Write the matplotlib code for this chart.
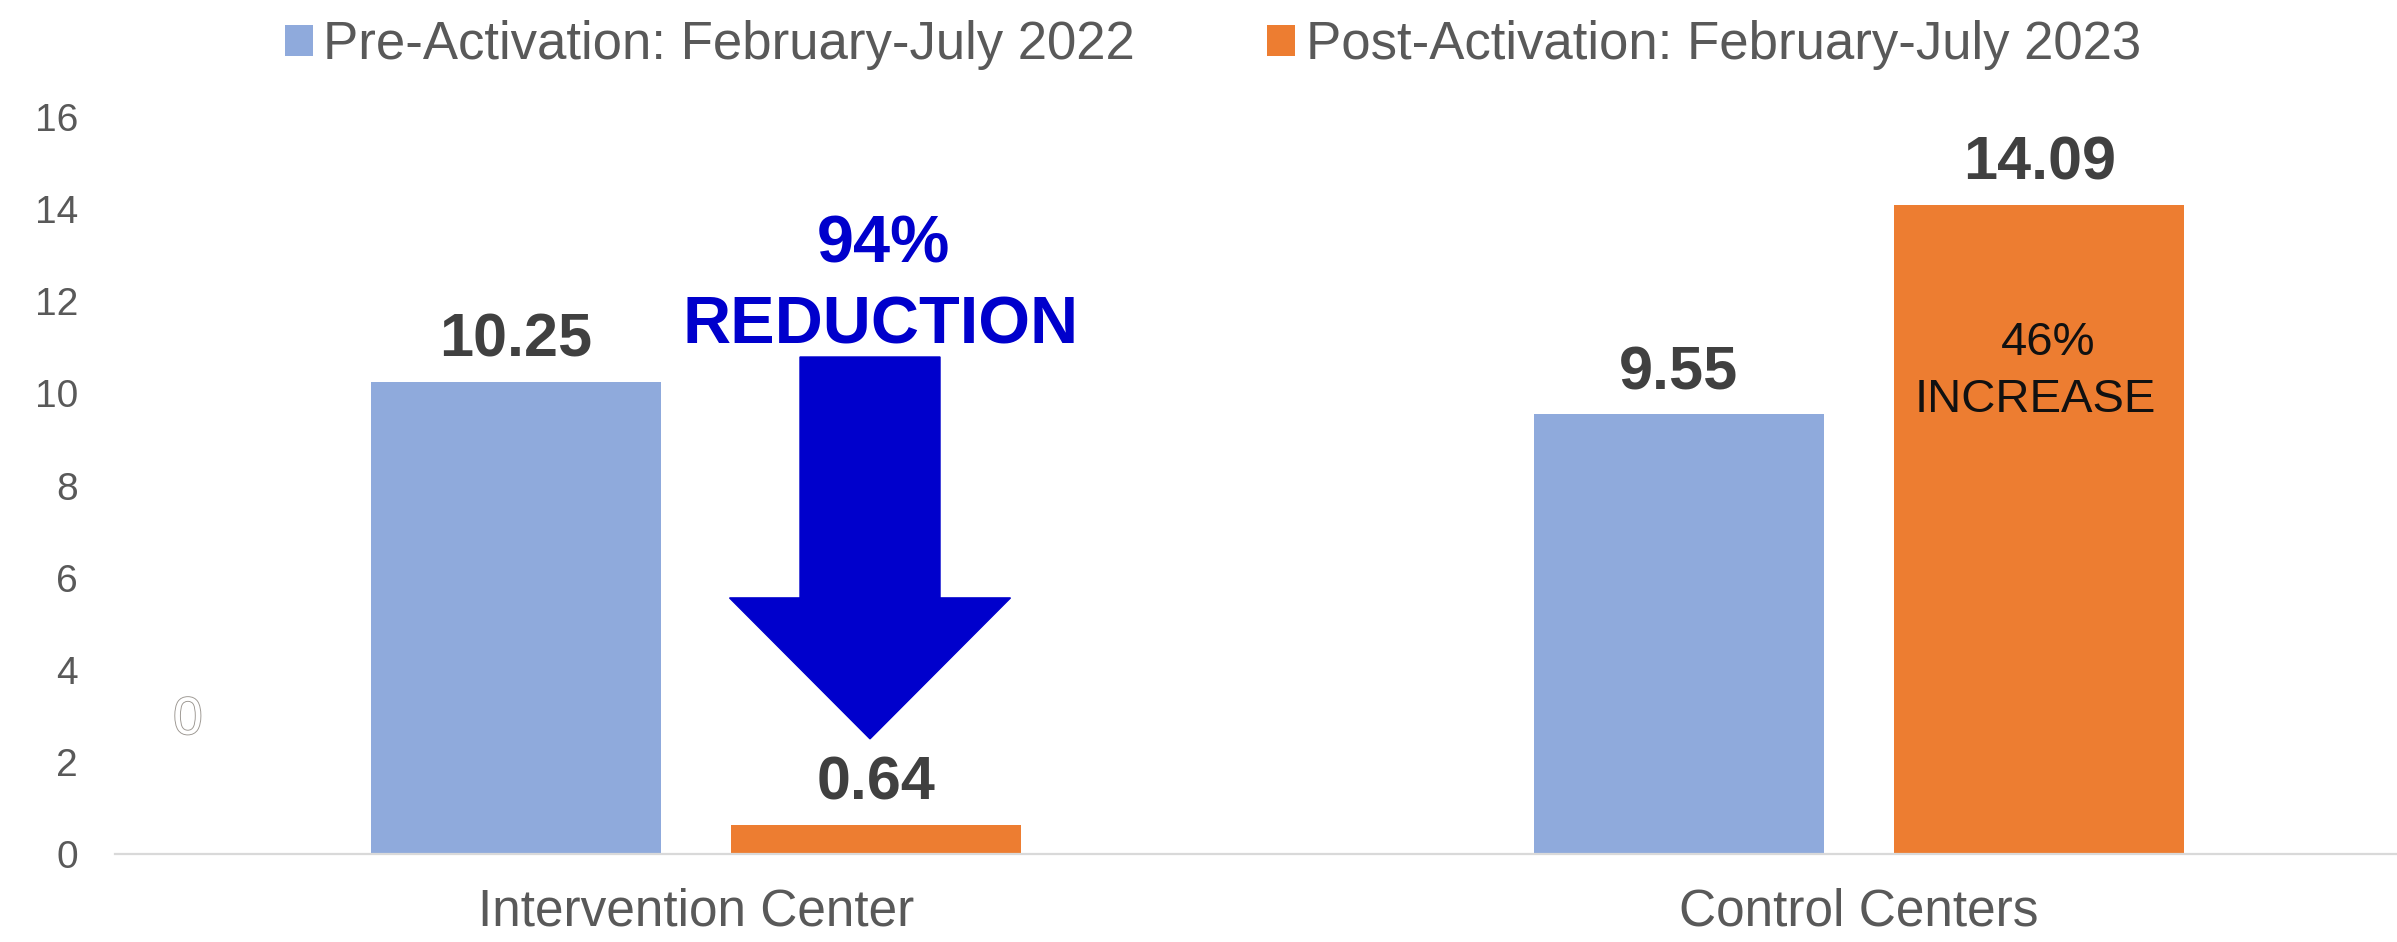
import matplotlib
matplotlib.use("Agg")
import matplotlib.pyplot as plt
import matplotlib.patheffects as pe
from matplotlib.patches import FancyArrow, Patch
import numpy as np

plt.rcParams['font.family'] = ['Liberation Sans', 'DejaVu Sans']

categories = ["Intervention Center", "Control Centers"]
series_names = ["Pre-Activation: February-July 2022", "Post-Activation: February-July 2023"]
pre_values = [10.25, 9.55]
post_values = [0.64, 14.09]
value_labels_pre = ["10.25", "9.55"]
value_labels_post = ["0.64", "14.09"]
yticks = [0, 2, 4, 6, 8, 10, 12, 14, 16]

c_pre = "#8FAADC"
c_post = "#ED7D31"
c_text = "#595959"
c_val = "#404040"
c_blue = "#0000CC"

W, H = 2397, 942
fig = plt.figure(figsize=(W / 100, H / 100), dpi=100)
ax_left = 115 / W
ax_bottom = (H - 854) / H
ax_height = (854 - 117) / H
ax = fig.add_axes([ax_left, ax_bottom, 1 - ax_left, ax_height])

x = np.arange(len(categories))
bw = 0.249
off = 0.155
ax.bar(x - off, pre_values, bw, color=c_pre, label=series_names[0], zorder=2)
ax.bar(x + off, post_values, bw, color=c_post, label=series_names[1], zorder=2)

ax.set_ylim(0, 16)
ax.set_xlim(-0.4996, 1.4626)
ax.set_yticks(yticks)
ax.set_yticklabels([str(t) for t in yticks])
ax.set_xticks(x)
ax.set_xticklabels(categories)
ax.tick_params(axis='y', length=0, pad=26.5, labelsize=28, labelcolor=c_text)
ax.tick_params(axis='x', length=0, pad=24, labelsize=37, labelcolor=c_text)
for s in ['top', 'right', 'left']:
    ax.spines[s].set_visible(False)
ax.spines['bottom'].set_color("#D9D9D9")
ax.spines['bottom'].set_linewidth(1.6)

# value labels
for xi, v, lab in zip(x - off, pre_values, value_labels_pre):
    ax.annotate(lab, (xi, v), xytext=(0, 18), textcoords='offset points',
                ha='center', va='baseline', fontsize=44, fontweight='bold', color=c_val)
for xi, v, lab in zip(x + off, post_values, value_labels_post):
    ax.annotate(lab, (xi, v), xytext=(0, 18), textcoords='offset points',
                ha='center', va='baseline', fontsize=44, fontweight='bold', color=c_val)

# reduction annotation
ax.text(0.161, 12.85, "94%", ha='center', va='baseline', fontsize=48,
        fontweight='bold', color=c_blue)
ax.text(0.159, 11.09, "REDUCTION", ha='center', va='baseline', fontsize=48,
        fontweight='bold', color=c_blue)
arrow = FancyArrow(0.1496, 10.79, 0, 2.50 - 10.79, width=0.1204, head_width=0.2416,
                   head_length=5.56 - 2.50, length_includes_head=True,
                   color=c_blue, zorder=3)
ax.add_patch(arrow)

# increase annotation
ax.text(1 + off + 0.008, 10.83, "46%", ha='center', va='baseline', fontsize=34, color="#111111")
ax.text(1 + off - 0.003, 9.60, "INCREASE", ha='center', va='baseline', fontsize=34, color="#111111")

# stray outlined zero
t0 = ax.text(-0.437, 2.91, "0", ha='center', va='center', fontsize=38, color='white')
t0.set_path_effects([pe.Stroke(linewidth=1.3, foreground="#9A958F"), pe.Normal()])

# legend
handles = [Patch(facecolor=c_pre, edgecolor='none'), Patch(facecolor=c_post, edgecolor='none')]
fig.legend(handles, series_names, loc='center', bbox_to_anchor=(0.506, 0.952),
           ncol=2, frameon=False, fontsize=38, labelcolor=c_text,
           handlelength=0.53, handleheight=0.51, handletextpad=0.2,
           columnspacing=2.5, borderpad=0, borderaxespad=0)

fig.savefig("out.png", dpi=100)
